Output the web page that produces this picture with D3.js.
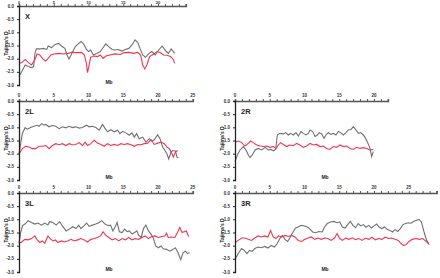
<!DOCTYPE html>
<html>
<head>
<meta charset="utf-8">
<script src="https://cdn.jsdelivr.net/npm/d3@7"></script>
<style>
  body { margin: 0; background: #fff; }
  svg { display: block; font-family: "Liberation Sans", Arial, sans-serif; }
</style>
</head>
<body>
<div id="chart"></div>
<script>
// Tajima's D along each chromosome arm, [Mb, D]
const yTicks = [0, -0.5, -1, -1.5, -2, -2.5, -3]
const xTicks = [0, 5, 10, 15, 20, 25]

const xGray = [[0,-2.68],[0.4,-2.49],[0.9,-2.24],[1.35,-2.30],[1.8,-2.34],[2.1,-2.30],[2.3,-1.80],[2.5,-1.63],[3.0,-1.63],[3.5,-1.61],[4.0,-1.65],[4.2,-1.52],[4.7,-1.58],[5.2,-1.46],[5.7,-1.42],[6.2,-1.54],[6.6,-1.61],[6.9,-1.86],[7.2,-2.01],[7.6,-1.80],[8.1,-1.54],[8.6,-1.42],[8.9,-1.35],[9.3,-1.44],[9.7,-1.65],[10.0,-1.73],[10.3,-1.67],[10.7,-1.86],[11.2,-1.80],[11.7,-1.73],[12.2,-1.54],[12.5,-1.44],[12.9,-1.54],[13.4,-1.65],[13.8,-1.67],[14.3,-1.65],[14.8,-1.71],[15.3,-1.65],[15.8,-1.61],[16.3,-1.46],[16.7,-1.29],[17.1,-1.39],[17.4,-1.61],[17.8,-1.86],[18.2,-1.95],[18.7,-1.80],[19.1,-1.73],[19.6,-1.86],[20.1,-1.67],[20.6,-1.52],[21.1,-1.70],[21.5,-1.80],[21.9,-1.63],[22.2,-1.73],[22.4,-1.80]]
const xRed = [[0,-2.18],[0.4,-2.15],[0.9,-2.03],[1.35,-2.15],[1.8,-2.24],[2.3,-2.03],[2.6,-1.82],[3.0,-1.86],[3.5,-2.03],[3.85,-2.09],[4.2,-1.99],[4.6,-1.86],[5.0,-1.82],[5.7,-1.80],[6.4,-1.82],[7.1,-1.80],[7.6,-1.76],[8.3,-1.77],[9.0,-1.76],[9.4,-1.86],[9.7,-2.18],[9.85,-2.53],[10.05,-2.30],[10.3,-1.95],[10.8,-1.90],[11.3,-1.92],[11.7,-1.86],[12.1,-1.99],[12.5,-1.90],[13.1,-1.86],[13.8,-1.82],[14.6,-1.84],[15.1,-1.77],[15.8,-1.76],[16.5,-1.80],[17.1,-1.76],[17.5,-1.86],[17.8,-2.24],[18.1,-2.39],[18.4,-2.24],[18.8,-1.92],[19.4,-1.82],[19.9,-1.73],[20.3,-1.77],[20.8,-1.86],[21.3,-1.87],[21.8,-1.92],[22.2,-2.03],[22.4,-2.18]]

const l2Gray = [[0,-2.01],[0.24,-1.62],[0.48,-1.24],[0.87,-1.01],[1.2,-1.07],[1.68,-1.01],[2.16,-0.96],[2.64,-0.92],[2.88,-0.96],[3.27,-0.86],[3.6,-0.92],[3.85,-0.89],[4.33,-0.98],[4.8,-0.93],[5.29,-0.96],[5.77,-1.05],[6.25,-0.98],[6.73,-1.02],[7.21,-0.96],[7.69,-1.01],[8.17,-0.98],[8.65,-1.03],[9.13,-1.01],[9.71,-0.92],[10.1,-0.98],[10.58,-0.96],[11.06,-1.01],[11.54,-1.11],[12.02,-0.89],[12.4,-1.05],[12.74,-1.17],[13.22,-1.09],[13.7,-1.17],[14.18,-1.11],[14.52,-1.24],[14.9,-1.15],[15.38,-1.21],[15.87,-1.30],[16.25,-1.21],[16.59,-1.37],[16.92,-1.24],[17.31,-1.43],[17.79,-1.37],[18.27,-1.56],[18.75,-1.43],[19.13,-1.52],[19.47,-1.47],[19.95,-1.28],[20.29,-1.43],[20.67,-1.75],[21.0,-1.88],[21.3,-2.01],[21.54,-2.20],[21.88,-1.94],[22.1,-1.88],[22.5,-1.90],[22.74,-2.13],[22.93,-2.16]]
const l2Red = [[0,-2.01],[0.48,-1.81],[0.96,-1.72],[1.44,-1.75],[1.92,-1.81],[2.4,-1.81],[2.88,-1.72],[3.37,-1.72],[3.85,-1.69],[4.33,-1.81],[4.81,-1.69],[5.29,-1.62],[5.77,-1.66],[6.25,-1.62],[6.73,-1.69],[7.21,-1.62],[7.69,-1.66],[8.17,-1.65],[8.65,-1.58],[9.13,-1.69],[9.52,-1.56],[9.86,-1.69],[10.34,-1.62],[10.82,-1.49],[11.3,-1.60],[11.78,-1.65],[12.26,-1.72],[12.74,-1.62],[13.22,-1.69],[13.7,-1.65],[14.18,-1.69],[14.66,-1.62],[15.14,-1.65],[15.63,-1.62],[16.11,-1.66],[16.59,-1.72],[17.07,-1.65],[17.55,-1.66],[18.03,-1.62],[18.51,-1.60],[18.99,-1.47],[19.47,-1.65],[19.95,-1.60],[20.43,-1.56],[20.91,-1.62],[21.3,-1.75],[21.63,-1.81],[22.02,-2.01],[22.21,-2.13],[22.5,-1.94],[22.84,-1.88]]

const r2Gray = [[0,-2.30],[0.34,-2.05],[0.72,-1.86],[1.2,-1.73],[1.58,-1.86],[1.92,-2.05],[2.16,-2.15],[2.49,-2.05],[2.88,-1.86],[3.36,-1.80],[3.84,-1.86],[4.32,-1.76],[4.8,-1.86],[5.13,-1.84],[5.52,-1.89],[5.85,-1.84],[6.09,-1.29],[6.47,-1.23],[6.95,-1.25],[7.29,-1.20],[7.67,-1.29],[8.01,-1.23],[8.39,-1.29],[8.78,-1.20],[9.11,-1.33],[9.5,-1.16],[9.83,-1.23],[10.22,-1.29],[10.55,-1.23],[10.79,-1.10],[11.18,-1.16],[11.51,-1.35],[11.85,-1.29],[12.13,-1.20],[12.47,-1.25],[12.81,-1.42],[13.09,-1.29],[13.43,-1.20],[13.76,-1.27],[14.15,-1.23],[14.53,-1.29],[14.87,-1.16],[15.2,-1.20],[15.59,-1.29],[15.97,-1.20],[16.31,-1.10],[16.69,-1.08],[17.03,-0.97],[17.41,-1.10],[17.75,-1.23],[18.08,-1.20],[18.47,-1.29],[18.8,-1.42],[19.14,-1.61],[19.42,-1.80],[19.66,-2.11],[19.9,-1.92]]
const r2Red = [[0,-1.57],[0.48,-1.52],[0.96,-1.58],[1.44,-1.71],[1.92,-1.61],[2.25,-1.52],[2.64,-1.58],[3.12,-1.67],[3.6,-1.71],[4.08,-1.73],[4.56,-1.71],[5.04,-1.76],[5.52,-1.73],[5.9,-1.80],[6.24,-1.67],[6.57,-1.58],[6.95,-1.65],[7.43,-1.73],[7.91,-1.67],[8.39,-1.70],[8.87,-1.61],[9.35,-1.67],[9.83,-1.76],[10.31,-1.71],[10.79,-1.61],[11.27,-1.67],[11.75,-1.65],[12.23,-1.73],[12.71,-1.71],[13.19,-1.80],[13.67,-1.84],[14.15,-1.73],[14.63,-1.76],[15.11,-1.67],[15.59,-1.73],[16.07,-1.71],[16.55,-1.80],[17.03,-1.84],[17.51,-1.76],[17.99,-1.80],[18.47,-1.77],[18.94,-1.80],[19.42,-1.86],[19.9,-1.84]]

const l3Gray = [[0,-1.91],[0.24,-1.50],[0.52,-1.24],[0.85,-1.18],[1.33,-1.05],[1.8,-1.12],[2.27,-1.18],[2.75,-1.14],[3.22,-1.22],[3.7,-1.14],[4.17,-1.21],[4.41,-1.09],[4.88,-1.12],[5.36,-1.22],[5.83,-1.09],[6.3,-1.27],[6.78,-1.44],[7.25,-1.37],[7.73,-1.28],[8.2,-1.35],[8.58,-1.22],[8.91,-1.35],[9.38,-1.24],[9.72,-1.14],[10.09,-1.27],[10.57,-1.22],[11.04,-1.18],[11.52,-1.12],[11.9,-1.05],[12.37,-1.18],[12.84,-1.24],[13.18,-1.22],[13.51,-1.44],[13.79,-1.31],[14.12,-1.12],[14.45,-1.47],[14.83,-1.50],[15.21,-1.37],[15.55,-1.47],[15.88,-1.44],[16.26,-1.56],[16.64,-1.50],[16.97,-1.44],[17.2,-1.60],[17.58,-1.69],[17.91,-1.35],[18.25,-1.22],[18.63,-1.44],[19.0,-1.56],[19.34,-1.73],[19.67,-2.01],[20.05,-2.08],[20.43,-2.01],[20.76,-2.12],[21.23,-2.14],[21.71,-2.21],[22.18,-2.14],[22.51,-2.08],[22.89,-2.27],[23.27,-2.53],[23.6,-2.27],[23.93,-2.21],[24.22,-2.29],[24.55,-2.27]]
const l3Red = [[0,-1.91],[0.38,-1.86],[0.85,-1.76],[1.33,-1.78],[1.8,-1.73],[2.27,-1.63],[2.61,-1.78],[2.99,-1.88],[3.36,-1.82],[3.7,-1.91],[4.17,-1.63],[4.5,-1.73],[4.88,-1.82],[5.26,-1.78],[5.59,-1.88],[6.07,-1.82],[6.54,-1.86],[7.01,-1.82],[7.49,-1.76],[7.96,-1.82],[8.44,-1.78],[8.91,-1.73],[9.38,-1.78],[9.86,-1.86],[10.33,-1.76],[10.81,-1.73],[11.28,-1.69],[11.75,-1.63],[12.09,-1.47],[12.46,-1.60],[12.94,-1.69],[13.41,-1.78],[13.89,-1.73],[14.36,-1.82],[14.83,-1.73],[15.31,-1.78],[15.78,-1.69],[16.26,-1.78],[16.73,-1.73],[17.2,-1.76],[17.68,-1.69],[18.15,-1.63],[18.63,-1.73],[19.1,-1.65],[19.57,-1.63],[20.05,-1.69],[20.52,-1.65],[20.99,-1.63],[21.23,-1.53],[21.47,-1.69],[21.94,-1.67],[22.42,-1.69],[22.8,-1.50],[23.13,-1.31],[23.46,-1.50],[23.74,-1.47],[24.08,-1.44],[24.41,-1.65]]

const r3Gray = [[0,-2.52],[0.47,-2.30],[0.95,-2.11],[1.33,-2.18],[1.71,-2.30],[2.09,-2.18],[2.46,-2.22],[2.84,-2.11],[3.32,-2.05],[3.79,-2.08],[4.27,-2.03],[4.74,-2.09],[5.21,-1.99],[5.69,-2.05],[6.07,-1.92],[6.45,-1.73],[6.82,-1.61],[7.2,-1.76],[7.58,-1.84],[7.96,-1.67],[8.34,-1.48],[8.72,-1.33],[9.1,-1.29],[9.48,-1.23],[9.95,-1.25],[10.43,-1.29],[10.81,-1.38],[11.18,-1.48],[11.61,-1.51],[12.09,-1.46],[12.56,-1.48],[12.89,-1.29],[13.27,-1.16],[13.74,-1.10],[14.22,-1.08],[14.69,-1.13],[15.07,-1.10],[15.45,-1.29],[15.83,-1.33],[16.21,-1.20],[16.59,-1.08],[16.97,-1.23],[17.35,-1.32],[17.73,-1.16],[18.1,-1.25],[18.48,-1.20],[18.86,-1.30],[19.24,-1.23],[19.62,-1.33],[20.0,-1.25],[20.38,-1.18],[20.76,-1.30],[21.14,-1.35],[21.52,-1.29],[21.9,-1.38],[22.27,-1.42],[22.65,-1.48],[23.03,-1.39],[23.41,-1.46],[23.79,-1.35],[24.17,-1.20],[24.55,-1.16],[24.93,-1.13],[25.31,-1.15],[25.69,-1.08],[26.07,-1.04],[26.45,-1.00],[26.82,-1.10],[27.2,-1.48],[27.58,-1.80],[27.87,-1.92]]
const r3Red = [[0,-1.89],[0.47,-1.80],[0.95,-1.71],[1.42,-1.71],[1.9,-1.76],[2.37,-1.80],[2.84,-1.71],[3.32,-1.63],[3.79,-1.67],[4.27,-1.63],[4.74,-1.67],[5.12,-1.42],[5.5,-1.67],[5.88,-1.73],[6.26,-1.63],[6.73,-1.67],[7.2,-1.61],[7.68,-1.65],[8.15,-1.61],[8.63,-1.67],[9.1,-1.80],[9.57,-1.84],[10.05,-1.76],[10.52,-1.71],[11.0,-1.67],[11.47,-1.76],[11.94,-1.71],[12.42,-1.76],[12.89,-1.71],[13.36,-1.73],[13.84,-1.80],[14.31,-1.71],[14.69,-1.54],[15.07,-1.73],[15.45,-1.80],[15.92,-1.71],[16.4,-1.76],[16.87,-1.70],[17.35,-1.77],[17.82,-1.73],[18.29,-1.80],[18.77,-1.71],[19.24,-1.76],[19.72,-1.68],[20.19,-1.78],[20.66,-1.73],[21.14,-1.76],[21.61,-1.68],[22.09,-1.73],[22.56,-1.71],[23.03,-1.76],[23.51,-1.80],[23.89,-1.92],[24.27,-1.99],[24.64,-1.96],[25.02,-1.84],[25.5,-1.76],[26.07,-1.73],[26.54,-1.76],[27.01,-1.73],[27.49,-1.84],[27.96,-1.96]]

const panels = [
  { name: "X",  gray: xGray,  red: xRed,  maxMb: 24, labels: [0, 5, 10, 15, 20], left: 19,  top: 6 },
  { name: "2L", gray: l2Gray, red: l2Red, maxMb: 25, labels: xTicks, left: 19,  top: 101 },
  { name: "2R", gray: r2Gray, red: r2Red, maxMb: 22, labels: [0, 5, 10, 15, 20], left: 235, top: 101 },
  { name: "3L", gray: l3Gray, red: l3Red, maxMb: 25, labels: xTicks, left: 19,  top: 193 },
  { name: "3R", gray: r3Gray, red: r3Red, maxMb: 29, labels: xTicks, left: 235, top: 193 }
]

const W = 440, H = 278
const pxPerMb = 6.95
const plotH = 79

const svg = d3.select("#chart").append("svg")
  .attr("width", W)
  .attr("height", H)

svg.append("rect").attr("width", W).attr("height", H).attr("fill", "#fff")

panels.forEach(p => {
  const g = svg.append("g").attr("transform", "translate(" + p.left + "," + p.top + ")")

  const x = d3.scaleLinear().domain([0, p.maxMb]).range([0, p.maxMb * pxPerMb])
  const y = d3.scaleLinear().domain([0, -3]).range([0, plotH])

  const line = d3.line()
    .x(d => x(d[0]))
    .y(d => y(d[1]))

  g.append("path")
    .datum(p.gray)
    .attr("d", line)
    .attr("fill", "none")
    .attr("stroke", "#707070")
    .attr("stroke-width", 1.1)

  g.append("path")
    .datum(p.red)
    .attr("d", line)
    .attr("fill", "none")
    .attr("stroke", "#f2334f")
    .attr("stroke-width", 1.1)

  // top axis, minor ticks every Mb
  const top = g.append("g")
    .call(d3.axisTop(x).tickValues(d3.range(0, p.maxMb + 1)).tickSize(2).tickFormat(""))
  top.select(".domain").attr("stroke", "#555").attr("stroke-width", 1.6)
  top.selectAll(".tick line").attr("stroke", "#555")

  // the X panel sits at the page edge, so its labels hug the axis
  const labY = p.top < 10 ? -2.2 : -4
  g.selectAll(".xlab")
    .data(p.labels)
    .enter()
    .append("text")
    .attr("x", d => x(d))
    .attr("y", labY)
    .attr("text-anchor", "middle")
    .style("font-size", p.top < 10 ? "4px" : "4.5px")
    .style("font-weight", "bold")
    .attr("fill", "#333")
    .text(d => d)

  // left axis
  const left = g.append("g")
    .call(d3.axisLeft(y).tickValues(yTicks).tickSize(2).tickFormat(""))
  left.select(".domain").attr("stroke", "#222").attr("stroke-width", 1.3)
  left.selectAll(".tick line").attr("stroke", "#222")

  g.selectAll(".ylab")
    .data(yTicks)
    .enter()
    .append("text")
    .attr("x", -5)
    .attr("y", d => y(d) + 1.6)
    .attr("text-anchor", "end")
    .style("font-size", "4.5px")
    .style("font-weight", "bold")
    .attr("fill", "#333")
    .text(d => d3.format(".1f")(d).replace("−", "-"))

  g.append("text")
    .attr("transform", "rotate(-90)")
    .attr("x", -plotH / 2 + 2)
    .attr("y", -11)
    .attr("text-anchor", "middle")
    .style("font-size", "5px")
    .style("font-weight", "bold")
    .attr("fill", "#222")
    .text("Tajima's D")

  g.append("text")
    .attr("x", 6)
    .attr("y", 13)
    .style("font-size", "7.5px")
    .style("font-weight", "bold")
    .attr("fill", "#222")
    .text(p.name)

  g.append("text")
    .attr("x", 90)
    .attr("y", plotH - 1)
    .attr("text-anchor", "middle")
    .style("font-size", "5px")
    .style("font-weight", "bold")
    .attr("fill", "#222")
    .text("Mb")
})
</script>
</body>
</html>
